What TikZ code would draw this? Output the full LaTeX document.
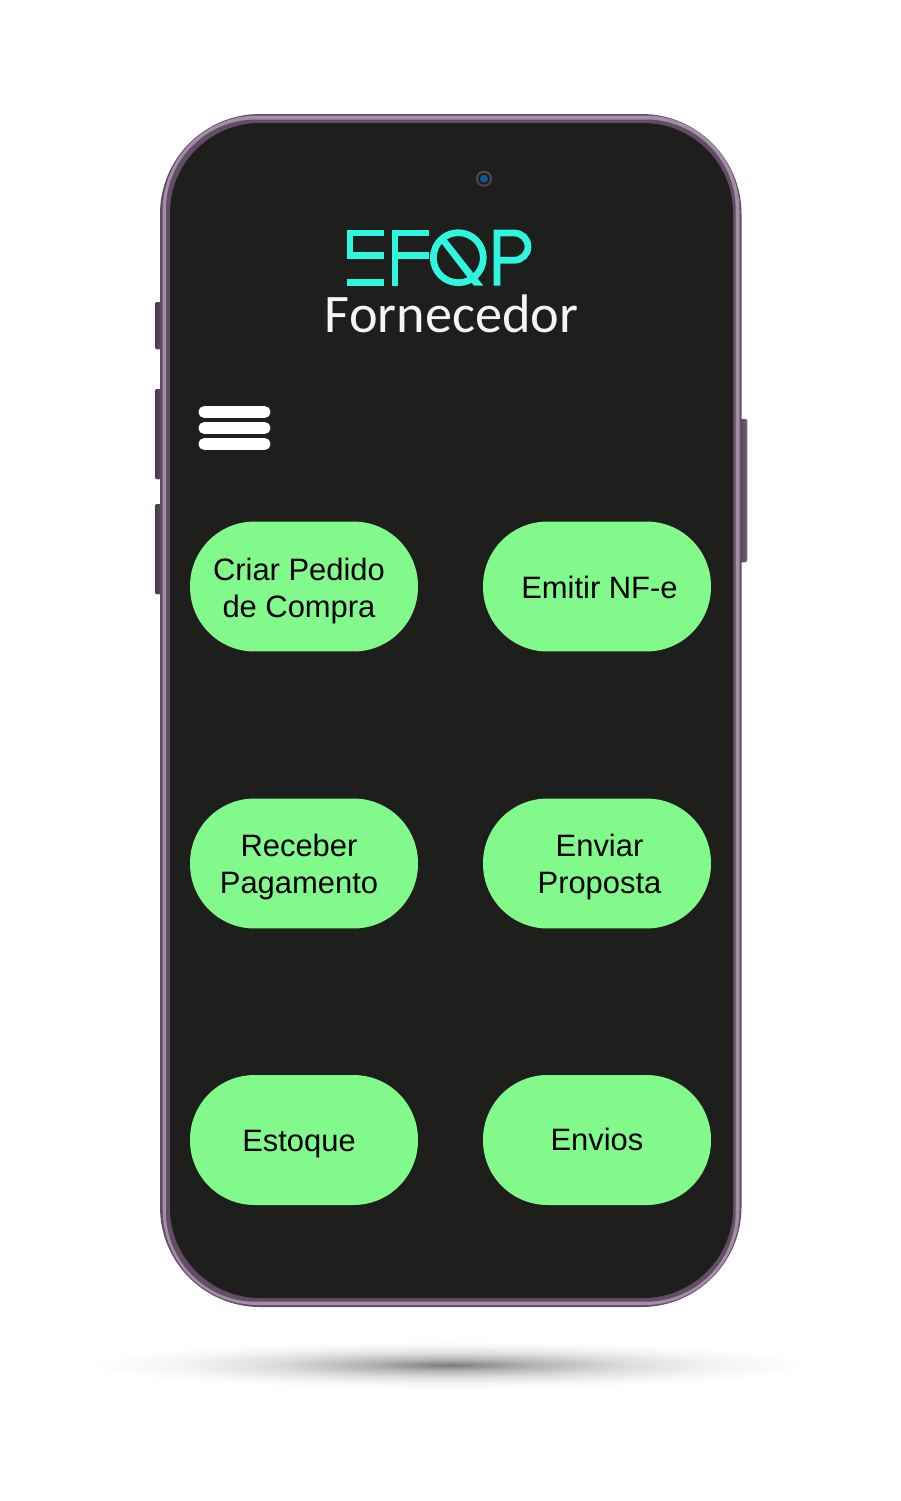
\documentclass[tikz,border=0pt]{standalone}
\usepackage{fontspec}
\setmainfont{Liberation Sans}
\newfontfamily\titlefont{Carlito}
\usepackage{xcolor}
\usetikzlibrary{positioning, shapes.geometric, shadings}

\definecolor{frameDark}{HTML}{634C66}
\definecolor{frameLight}{HTML}{A28EA5}
\definecolor{screenDark}{HTML}{1E1E1C}
\definecolor{buttonGreen}{HTML}{82F98B}
\definecolor{logoCyan}{HTML}{2FF7DF}
\definecolor{lensBlue}{HTML}{0E55A5}

\pgfdeclareradialshading{floorshadow}{\pgfpoint{0bp}{0bp}}{%
  color(0bp)=(black!52); color(3bp)=(black!40); color(6bp)=(black!29);
  color(12.5bp)=(black!13); color(19bp)=(black!4);
  color(25bp)=(white); color(50bp)=(white)}

\begin{document}
\begin{tikzpicture}[
    x=0.02cm, y=-0.02cm,
    menubutton/.style={rectangle, fill=buttonGreen, rounded corners=1.29cm, minimum width=4.56cm, minimum height=2.6cm, inner sep=0pt},
    menulabel/.style={align=center, inner sep=0pt, text=black, font=\fontsize{17.6}{21.1}\selectfont},
    menubar/.style={rectangle, fill=white, rounded corners=0.11cm, minimum width=1.44cm, minimum height=0.235cm, inner sep=0pt},
    sidekey/.style={rounded corners=0.03cm, left color=frameDark!75!black, right color=frameDark},
    sidekeyright/.style={rounded corners=0.03cm, left color=frameDark!80!black, right color=frameDark!70!frameLight},
    logostroke/.style={draw=logoCyan, line width=0.135cm, miter limit=4}
]
\useasboundingbox (0,0) rectangle (901,1501);

% shadow under the phone
\shade[shading=floorshadow] (450,1365) ellipse [x radius=360, y radius=24];

% side keys
\fill[sidekey] (155,302) rectangle (162,349);
\fill[sidekey] (155,389) rectangle (162,479);
\fill[sidekey] (155,504) rectangle (162,594);
\fill[sidekeyright] (739,419) rectangle (747,562);

% phone body
\fill[frameDark, rounded corners=2cm] (160,114) rectangle (741.5,1307);
\fill[frameLight, rounded corners=1.9cm] (162.7,115.5) rectangle (739.5,1305);
\fill[frameDark, rounded corners=1.8cm] (166,119.5) rectangle (735.7,1301.7);
\fill[screenDark, rounded corners=1.8cm] (170,123) rectangle (733,1298);

% camera
\fill[black!70] (484,178.7) circle (8);
\fill[black!88] (484,178.7) circle (6);
\fill[lensBlue] (484,178.7) circle (4);

% logo
\draw[logostroke] (384,233) -- (350,233) -- (350,255.3) -- (384,255.3);
\draw[logostroke] (346.7,282.7) -- (384,282.7);
\draw[logostroke] (429.3,233) -- (395,233) -- (395,285.7);
\draw[logostroke] (395,255.3) -- (429.3,255.3);
\draw[logostroke] (458.3,257.7) circle (25);
\fill[logoCyan] (441,242.7) -- (446,238.3) -- (483.3,285.7) -- (474,285.7) -- cycle;
\draw[logostroke] (497,285.7) -- (497,233) -- (514.4,233) arc[start angle=-90, end angle=90, radius=13.6] -- (497,260.2);

\node[anchor=base, inner sep=0pt, text=white!96!black, font=\titlefont\fontsize{30.9}{36}\selectfont] (title) at (451.5,332.7) {Fornecedor};

% menu icon
\node[menubar] (bar1) at (234.5,412) {};
\node[menubar] (bar2) at (234.5,428) {};
\node[menubar] (bar3) at (234.5,444) {};

% buttons
\node[menubutton] (criar) at (304,586.5) {};
\node[menubutton] (emitir) at (597,586.5) {};
\node[menubutton] (receber) at (304,863.5) {};
\node[menubutton] (enviar) at (597,863.5) {};
\node[menubutton] (estoque) at (304,1140) {};
\node[menubutton] (envios) at (597,1140) {};

\node[menulabel] (criarlabel) at (299,591) {Criar Pedido\\de Compra};
\node[menulabel] (emitirlabel) at (599.5,587) {Emitir NF-e};
\node[menulabel] (receberlabel) at (299,867) {Receber\\Pagamento};
\node[menulabel] (enviarlabel) at (599.5,867) {Enviar\\Proposta};
\node[menulabel] (estoquelabel) at (299,1144) {Estoque};
\node[menulabel] (enviolabel) at (597,1139) {Envios};

\end{tikzpicture}
\end{document}
